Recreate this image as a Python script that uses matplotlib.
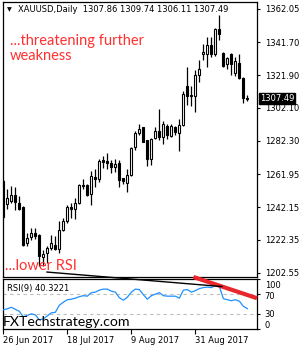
import matplotlib
matplotlib.use("Agg")
import matplotlib.pyplot as plt
from matplotlib.patches import ConnectionPatch
from matplotlib.transforms import blended_transform_factory, ScaledTranslation

W, H = 300, 350

opens = [1257.8, 1243.8, 1245.8, 1249.3, 1244.8, 1242.2, 1220.6, 1224.2, 1226.6, 1225.6,
         1212.1, 1214.5, 1217.5, 1219.5, 1216.9, 1228.6, 1233.7, 1242.4, 1241.2, 1244.4,
         1255.7, 1255.3, 1249.8, 1260.6, 1258.9, 1270.5, 1270.1, 1269.1, 1266.6, 1269.1,
         1259.5, 1257.0, 1261.4, 1278.2, 1286.8, 1290.3, 1282.6, 1271.5, 1284.2, 1288.2,
         1284.8, 1291.3, 1285.2, 1290.3, 1286.8, 1291.7, 1315.2, 1309.3, 1309.5, 1322.0,
         1334.8, 1334.8, 1340.2, 1334.8, 1349.5, 1335.4, 1328.7, 1334.8, 1323.2, 1329.3,
         1320.0, 1307.86]
highs = [1259.0, 1252.9, 1254.9, 1254.1, 1248.8, 1242.8, 1226.8, 1229.3, 1229.3, 1226.0,
         1216.1, 1218.5, 1225.6, 1224.6, 1233.7, 1235.7, 1243.2, 1244.4, 1247.9, 1255.9,
         1259.0, 1256.0, 1264.0, 1265.0, 1271.1, 1273.1, 1274.7, 1270.7, 1271.1, 1270.7,
         1260.0, 1265.4, 1278.2, 1288.2, 1292.3, 1290.5, 1282.8, 1284.2, 1290.5, 1301.4,
         1294.3, 1292.3, 1292.3, 1291.3, 1295.3, 1312.5, 1326.7, 1315.2, 1325.2, 1330.7,
         1340.8, 1344.9, 1344.9, 1350.3, 1358.4, 1336.0, 1332.8, 1335.4, 1332.8, 1334.8,
         1320.6, 1309.74]
lows = [1235.3, 1240.8, 1244.8, 1240.3, 1240.3, 1218.5, 1218.5, 1222.6, 1223.2, 1206.4,
        1206.4, 1208.4, 1216.1, 1216.5, 1214.5, 1228.0, 1232.7, 1235.7, 1235.1, 1244.0,
        1252.9, 1248.6, 1243.2, 1254.5, 1257.3, 1266.0, 1265.4, 1263.0, 1263.5, 1254.5,
        1255.9, 1251.3, 1261.0, 1276.7, 1285.6, 1281.2, 1267.0, 1267.4, 1283.6, 1282.8,
        1280.2, 1283.6, 1284.8, 1285.6, 1276.1, 1291.3, 1303.8, 1303.4, 1299.4, 1317.6,
        1330.7, 1326.7, 1332.8, 1333.7, 1342.8, 1326.9, 1325.6, 1322.0, 1321.6, 1319.6,
        1305.0, 1306.11]
closes = [1236.5, 1247.9, 1249.3, 1245.2, 1241.2, 1219.6, 1223.6, 1226.6, 1224.6, 1212.9,
          1214.1, 1217.5, 1220.6, 1216.9, 1228.6, 1233.7, 1242.4, 1241.2, 1244.4, 1255.3,
          1254.9, 1249.6, 1261.0, 1259.4, 1270.1, 1269.7, 1269.1, 1266.6, 1268.5, 1258.5,
          1257.9, 1261.4, 1277.6, 1286.8, 1289.3, 1281.6, 1271.5, 1283.2, 1287.9, 1284.8,
          1292.3, 1285.6, 1290.9, 1287.3, 1291.7, 1310.5, 1309.5, 1309.7, 1322.0, 1325.6,
          1335.8, 1340.2, 1334.8, 1349.9, 1346.9, 1327.3, 1332.2, 1328.7, 1330.1, 1320.0,
          1307.9, 1307.49]
rsi = [38, 40, 43, 39, 35, 24, 27, 30, 28, 18,
       20, 26, 32, 33, 47, 53, 58, 59, 61, 64,
       66, 65, 72, 73, 77, 79, 79, 75, 73, 62,
       57, 63, 73, 79, 78, 68, 59, 66, 69, 72,
       66, 65, 65, 65, 61, 77, 78, 73, 76, 80,
       82, 83, 82, 86, 84, 60, 58, 56, 58, 55,
       45, 40.32]

price_ticks = [1362.05, 1341.70, 1321.90, 1302.10, 1282.30, 1261.95, 1242.15, 1222.35, 1202.55]
rsi_ticks = [100, 70, 30, 0]
rsi_levels = [70, 30]
date_idx = [0, 16, 32, 48]
date_labels = ["26 Jun 2017", "18 Jul 2017", "9 Aug 2017", "31 Aug 2017"]

# trend lines: (candle index, value)
black_line = [(10.85, 1203.0), (54.7, 84.0)]   # price panel -> rsi panel
red_line = [(47.5, 103.0), (63.4, 61.0)]       # rsi units

RED = "#FF3030"
SMALL = 6


def box(l, t, r, b):
    return [l / W, 1 - b / H, (r - l) / W, (b - t) / H]


def fx(x, y):
    return x / W, 1 - y / H


fig = plt.figure(figsize=(W / 100, H / 100), dpi=100)
ax = fig.add_axes(box(2.5, 1.5, 257, 276.5))
ax2 = fig.add_axes(box(2.5, 278.5, 257, 329))

n = len(closes)
xs = list(range(n))
ax.vlines(xs, lows, highs, color="black", lw=0.9, zorder=2)
for i in xs:
    o, c = opens[i], closes[i]
    fc = "white" if c >= o else "black"
    h = max(abs(c - o), 0.4)
    ax.bar(i, h, bottom=min(o, c), width=0.55, facecolor=fc,
           edgecolor="black", linewidth=0.8, zorder=3)

ax.set_xlim(-0.2, 63.4)
ax.set_ylim(1200.3, 1366.3)
ax.set_xticks([])
ax.yaxis.tick_right()
ax.set_yticks(price_ticks)
ax.set_yticklabels([f"{v:.2f}" for v in price_ticks])
ax.tick_params(axis="y", direction="out", length=2.5, width=0.8, pad=3,
               labelsize=SMALL, colors="black")
for s in ax.spines.values():
    s.set_linewidth(0.9)

# current price box
tr = blended_transform_factory(ax.transAxes, ax.transData)
ax.text(1.012, closes[-1], f"{closes[-1]:.2f}", transform=tr, fontsize=SMALL,
        color="white", va="center", ha="left", zorder=10, clip_on=False,
        bbox=dict(boxstyle="square,pad=0.12", fc="black", ec="black"))

# RSI panel
ax2.plot(xs, rsi, color="#1E90FF", lw=0.9, zorder=3)
for lv in rsi_levels:
    ax2.axhline(lv, color="#BDBDBD", lw=0.8, ls=(0, (3, 3)), zorder=1)
ax2.set_xlim(-0.2, 63.4)
ax2.set_ylim(0, 100)
ax2.yaxis.tick_right()
ax2.set_yticks(rsi_ticks)
ax2.set_yticklabels([str(v) for v in rsi_ticks])
ax2.tick_params(axis="y", direction="out", length=2.5, width=0.8, pad=3,
                labelsize=SMALL, colors="black")
shifts = {"100": -0.06, "70": -0.015, "30": 0.0, "0": 0.045}
for lab in ax2.get_yticklabels():
    dy = shifts.get(lab.get_text(), 0)
    lab.set_transform(lab.get_transform() + ScaledTranslation(0, dy, fig.dpi_scale_trans))
ax2.set_xticks(date_idx)
ax2.set_xticklabels(date_labels, ha="left")
ax2.tick_params(axis="x", direction="out", length=3.5, width=0.8, pad=1.5,
                labelsize=SMALL, colors="black")
for s in ax2.spines.values():
    s.set_linewidth(0.9)

# trend lines
con = ConnectionPatch(xyA=black_line[0], coordsA=ax.transData,
                      xyB=black_line[1], coordsB=ax2.transData,
                      color="black", lw=1.0, zorder=6)
fig.add_artist(con)
ax2.plot([p[0] for p in red_line], [p[1] for p in red_line], color="#E8262B",
         lw=3.0, solid_capstyle="butt", clip_on=False, zorder=7)

# texts
fig.text(*fx(6.5, 10), "\u25bc", fontsize=4.5, va="center", ha="left")
fig.text(*fx(18, 10), "XAUUSD,Daily  1307.86 1309.74 1306.11 1307.49",
         fontsize=SMALL, va="center", ha="left")
fig.text(*fx(10, 33.5), "...threatening further\nweakness", color=RED,
         family="Lato", fontsize=10.5, va="top", ha="left", linespacing=1.15)
fig.text(*fx(5, 265.5), "...lower RSI", color=RED, family="Lato",
         fontsize=10.5, va="center", ha="left")
fig.text(*fx(7, 288), "RSI(9) 40.3221", fontsize=SMALL, va="center", ha="left")
fig.text(*fx(3, 321.5), "FXTechstrategy.com", family="Lato", fontsize=10.2,
         va="center", ha="left", zorder=8)

fig.savefig("out.png", dpi=100)
